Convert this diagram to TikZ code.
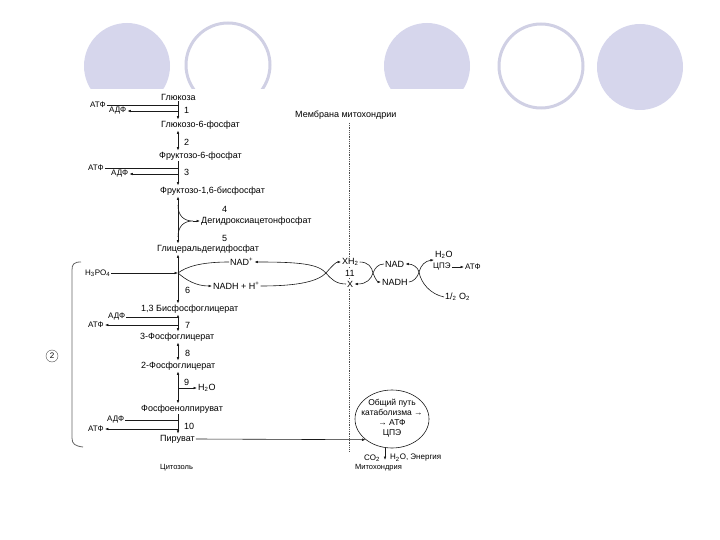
\documentclass[tikz,border=0pt]{standalone}
\usepackage{fontspec}
\setmainfont{Liberation Sans}
\usetikzlibrary{arrows.meta,shapes.geometric}
\definecolor{lavfill}{HTML}{D6D6EC}
\definecolor{lavring}{HTML}{D0D0E4}
\definecolor{ink}{HTML}{1A1A1A}

\begin{document}
\begin{tikzpicture}[x=1pt, y=-1pt, >={Latex[length=3.5pt,width=2.6pt]},
    lbl/.style={anchor=west, inner sep=1pt, font=\fontsize{9}{10}\selectfont},
    cof/.style={lbl, font=\fontsize{8}{9}\selectfont},
    place/.style={lbl, font=\fontsize{7.5}{8}\selectfont},
    rxn/.style={draw=ink, line width=0.6pt},
    memb/.style={draw=black!70, line width=0.8pt, densely dotted}]
  \useasboundingbox (0,0) rectangle (720,540);

  % slide decoration
  \fill[lavfill] (127,66) circle (43pt);
  \draw[lavring, line width=3pt] (228,65) circle (42pt);
  \fill[lavfill] (427,66) circle (43pt);
  \draw[lavring, line width=3pt] (541,66) circle (42pt);
  \fill[lavfill] (640,67) circle (43pt);
  \fill[white] (80,89) rectangle (472,482);

  % membrane
  \node[lbl] (mlbl) at (294,115) {Мембрана митохондрии};
  \coordinate (mb-top) at (349,123);
  \coordinate (mb-bot) at (349,452);
  \draw[memb] (mb-top) -- (mb-bot);

  % glycolysis chain
  \coordinate (ax) at (178,0);
  \node[lbl] (glc) at (160,97) {Глюкоза};
  \node[lbl] (g6p) at (160,125) {Глюкозо-6-фосфат};
  \node[lbl] (f6p) at (158,156) {Фруктозо-6-фосфат};
  \node[lbl] (fbp) at (159,191) {Фруктозо-1,6-бисфосфат};
  \node[lbl] (dhap) at (200,221) {Дегидроксиацетонфосфат};
  \node[lbl] (gap) at (156,249) {Глицеральдегидфосфат};
  \node[lbl] (bpg) at (140,309) {1,3 Бисфосфоглицерат};
  \node[lbl] (pg3) at (139,337) {3-Фосфоглицерат};
  \node[lbl] (pg2) at (140,366) {2-Фосфоглицерат};
  \node[lbl] (pep) at (140,409) {Фосфоенолпируват};
  \node[lbl] (pyr) at (159,439) {Пируват};
  \node[place] (cyt) at (159,468) {Цитозоль};

  \draw[rxn,->] (glc.south -| ax) -- (g6p.north -| ax);
  \draw[rxn,<->] (g6p.south -| ax) -- (f6p.north -| ax);
  \draw[rxn,->] (f6p.south -| ax) -- (fbp.north -| ax);
  \draw[rxn,<->] (fbp.south -| ax) -- (gap.north -| ax);
  \draw[rxn,<->] (gap.south -| ax) -- (bpg.north -| ax);
  \draw[rxn,<->] (bpg.south -| ax) -- (pg3.north -| ax);
  \draw[rxn,<->] (pg3.south -| ax) -- (pg2.north -| ax);
  \draw[rxn,<->] (pg2.south -| ax) -- (pep.north -| ax);
  \draw[rxn,->] (pep.south -| ax) -- (pyr.north -| ax);

  % step numbers
  \node[lbl] (n1) at (183,110) {1};
  \node[lbl] (n2) at (183,142) {2};
  \node[lbl] (n3) at (183,172) {3};
  \node[lbl] (n4) at (221,209) {4};
  \node[lbl] (n5) at (221,238) {5};
  \node[lbl] (n6) at (184,290) {6};
  \node[lbl] (n7) at (184,325) {7};
  \node[lbl] (n8) at (184,353) {8};
  \node[lbl] (n9) at (183,382) {9};
  \node[lbl] (n10) at (183,426) {10};

  % cofactors
  \node[cof] (atp1) at (89,105) {АТФ};
  \node[cof] (adp1) at (108,111) {АДФ};
  \draw[rxn] (atp1.east) -- (atp1.east -| ax);
  \draw[rxn,->] (adp1.east -| ax) -- (adp1.east);
  \node[cof] (atp3) at (87,168) {АТФ};
  \node[cof] (adp3) at (110,174) {АДФ};
  \draw[rxn] (atp3.east) -- (atp3.east -| ax);
  \draw[rxn,->] (adp3.east -| ax) -- (adp3.east);
  \node[cof] (adp7) at (107,317) {АДФ};
  \node[cof] (atp7) at (87,325) {АТФ};
  \draw[rxn] (adp7.east) -- (adp7.east -| ax);
  \draw[rxn,->] (atp7.east -| ax) -- (atp7.east);
  \node[cof] (adp10) at (106,420) {АДФ};
  \node[cof] (atp10) at (87,429) {АТФ};
  \draw[rxn] (adp10.east) -- (adp10.east -| ax);
  \draw[rxn,->] (atp10.east -| ax) -- (atp10.east);
  \node[lbl] (h2o9) at (197,388) {H\textsubscript{2}O};
  \draw[rxn,->] (h2o9.west -| ax) -- (h2o9.west);

  % aldolase fork
  \coordinate (fk-a) at (178,205);
  \coordinate (fk) at (193,221);
  \coordinate (fk-b) at (178,237);
  \draw[rxn] (fk-a) .. controls (178,216) and (184,221) .. (fk)
    .. controls (184,221) and (178,226) .. (fk-b);
  \draw[rxn,->] (fk) -- (dhap.west);

  % NAD shuttle
  \coordinate (j1) at (178,273);
  \coordinate (j2) at (326,273);
  \coordinate (jm) at (373,273);
  \coordinate (jr) at (419,272);
  \node[cof] (h3po4) at (84,273) {H\textsubscript{3}PO\textsubscript{4}};
  \draw[rxn,->] (h3po4.east) -- (j1);
  \node[lbl] (nadp) at (229,262) {NAD\textsuperscript{+}};
  \node[lbl] (nadh) at (212,286) {NADH + H\textsuperscript{+}};
  \node[lbl, fill=white] (xh2) at (341,262) {XH\textsubscript{2}};
  \node[lbl, fill=white] (n11) at (344,273) {11};
  \node[lbl, fill=white] (xx) at (346,284) {X};
  \node[lbl] (nad) at (384,264) {NAD};
  \node[lbl] (nadh2) at (381,282) {NADH};
  \node[lbl] (h2o) at (434,255) {H\textsubscript{2}O};
  \node[cof] (cpe) at (432,267) {ЦПЭ};
  \node[cof] (atp11) at (464,267) {АТФ};
  \node[lbl] (o2) at (444,297) {1/\textsubscript{2} O\textsubscript{2}};

  \draw[rxn,->] (nadp.west) .. controls (200,262) and (186,267) .. (j1)
    .. controls (186,280) and (196,286) .. (nadh.west);
  \draw[rxn,->] (nadh.east) .. controls (300,286) and (318,281) .. (j2)
    .. controls (332,266) and (336,262) .. (xh2.west);
  \draw[rxn,->] (xx.west) .. controls (336,284) and (331,279) .. (j2)
    .. controls (318,264) and (300,262) .. (nadp.east);
  \draw[rxn,->] (xh2.east) .. controls (368,262) and (372,267) .. (jm)
    .. controls (375,279) and (378,282) .. (nadh2.west);
  \draw[rxn,->] (nad.west) .. controls (378,264) and (375,268) .. (jm)
    .. controls (371,279) and (367,284) .. (xx.east);
  \draw[rxn,->] (nadh2.east) .. controls (413,282) and (418,277) .. (jr)
    .. controls (418,267) and (412,264) .. (nad.east);
  \draw[rxn,->] (o2.west) .. controls (430,294) and (421,283) .. (jr)
    .. controls (421,265) and (425,261) .. (h2o.south west);
  \draw[rxn,->] (cpe) -- (atp11);

  % mitochondrion
  \node[draw=ink, line width=0.6pt, ellipse, minimum width=74pt, minimum height=58pt]
    (cycle) at (392,419) {};
  \node[align=center, inner sep=0pt, font=\fontsize{8.5}{10}\selectfont]
    (cyctxt) at (392,418) {Общий путь\\катаболизма →\\→ АТФ\\ЦПЭ};
  \draw[rxn,->] (pyr.east) -- (cycle.south west);
  \coordinate (cyc-out) at (385,460);
  \draw[rxn,->] (cycle.south -| cyc-out) -- (cyc-out);
  \node[cof] (co2) at (363,458) {CO\textsubscript{2}};
  \node[cof] (h2oe) at (389,458) {H\textsubscript{2}O, Энергия};
  \node[place] (mito) at (354,468) {Митохондрия};

  % bracket and mark
  \draw[draw=black!60, line width=0.8pt] (81,262) .. controls (74,262) and (72,264) .. (72,270)
    -- (72,438) .. controls (72,444) and (75,446) .. (83,447);
  \node[draw=black!70, circle, inner sep=0.5pt, minimum size=12pt,
    font=\fontsize{8}{9}\selectfont] (two) at (52,356) {2};
\end{tikzpicture}
\end{document}
